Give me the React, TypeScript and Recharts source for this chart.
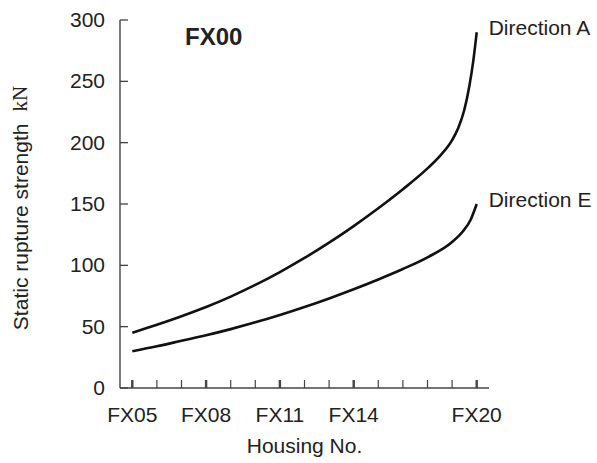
import { Line, LineChart, XAxis, YAxis, Label } from "recharts";

// housing index: 0 = FX05 ... 14 = FX20
const tickIndex = [0, 1, 2, 3, 4, 5, 6, 7, 8, 9, 10, 11, 12, 13, 14];
const majorTicks = [0, 3, 6, 9, 14];
const majorLabels = ["FX05", "FX08", "FX11", "FX14", "FX20"];
const yTicks = [0, 50, 100, 150, 200, 250, 300];

const dirAIdx = [0, 1, 2, 3, 4, 5, 6, 7, 8, 9, 10, 11, 12, 12.5, 13, 13.25, 13.5, 13.7, 13.85, 14];
const dirAVal = [45, 51.5, 58.5, 66, 74.5, 84, 94.5, 106, 118.5, 132, 146.5, 162, 179, 189, 202, 212, 227, 246, 265, 290];

const dirEIdx = [0, 1, 2, 3, 4, 5, 6, 7, 8, 9, 10, 11, 12, 13, 13.45, 13.75, 14];
const dirEVal = [30, 34, 38.5, 43, 48, 53.5, 59.5, 66, 73, 80.5, 88.5, 97, 106.5, 119, 128, 137, 150];

const dirA = dirAIdx.map((idx, i) => ({ idx, value: dirAVal[i] }));
const dirE = dirEIdx.map((idx, i) => ({ idx, value: dirEVal[i] }));

const FONT = "'Liberation Sans', Arial, Helvetica, sans-serif";
const TEXT = "#222";
const AXIS = "#444";
const FS = 21;

function XTick({ x, y, payload }: any) {
  const k = majorTicks.indexOf(payload.value);
  const major = k >= 0;
  return (
    <g>
      <line x1={x} x2={x} y1={y} y2={y - 8} stroke={AXIS} strokeWidth={major ? 2.4 : 1.2} />
      {major && (
        <text x={x} y={y + 34} textAnchor="middle" fontSize={FS} fontFamily={FONT} fill={TEXT}>
          {majorLabels[k]}
        </text>
      )}
    </g>
  );
}

function YTick({ x, y, payload }: any) {
  return (
    <g>
      <line x1={x} x2={x + 8} y1={y} y2={y} stroke={AXIS} strokeWidth={1.3} />
      <text x={x - 15} y={y + 7} textAnchor="end" fontSize={FS} fontFamily={FONT} fill={TEXT}>
        {payload.value}
      </text>
    </g>
  );
}

function endLabel(name: string, count: number) {
  return (props: any) => {
    if (props.index !== count - 1) return null;
    return (
      <text key={name} x={props.x + 12} y={props.y + 3} fontSize={FS} fontFamily={FONT} fill={TEXT}>
        {name}
      </text>
    );
  };
}

export default function App() {
  return (
    <div style={{ position: "absolute", left: 0, top: 0, background: "#fff" }}>
      <LineChart width={597} height={463} margin={{ top: 20, right: 108, bottom: 0, left: 0 }}>
        <XAxis
          type="number"
          dataKey="idx"
          domain={[-0.5, 14.5]}
          ticks={tickIndex}
          interval={0}
          height={75}
          tickSize={0}
          tickMargin={0}
          tickLine={false}
          axisLine={{ stroke: AXIS, strokeWidth: 1.4 }}
          tick={<XTick />}
        >
          <Label
            content={() => (
              <text x={304.5} y={453} textAnchor="middle" fontSize={FS} fontFamily={FONT} fill={TEXT}>
                Housing No.
              </text>
            )}
          />
        </XAxis>
        <YAxis
          type="number"
          domain={[0, 300]}
          ticks={yTicks}
          interval={0}
          width={120}
          tickSize={0}
          tickMargin={0}
          tickLine={false}
          axisLine={{ stroke: AXIS, strokeWidth: 1.4 }}
          tick={<YTick />}
        >
          <Label
            content={() => (
              <text
                x={20}
                y={208}
                transform="rotate(-90, 20, 208)"
                textAnchor="middle"
                dominantBaseline="central"
                fontSize={FS}
                fontFamily={FONT}
                fill={TEXT}
              >
                Static rupture strength
                <tspan dx={12} fontFamily="'Liberation Serif', 'Times New Roman', serif">kN</tspan>
              </text>
            )}
          />
        </YAxis>
        <Line
          data={dirA}
          dataKey="value"
          type="monotone"
          stroke="#111"
          strokeWidth={2.6}
          dot={false}
          isAnimationActive={false}
          label={endLabel("Direction A", dirA.length)}
        />
        <Line
          data={dirE}
          dataKey="value"
          type="monotone"
          stroke="#111"
          strokeWidth={2.6}
          dot={false}
          isAnimationActive={false}
          label={endLabel("Direction E", dirE.length)}
        />
        <text x={185} y={45} fontSize={24} fontWeight="bold" fontFamily={FONT} fill={TEXT}>
          FX00
        </text>
      </LineChart>
    </div>
  );
}
